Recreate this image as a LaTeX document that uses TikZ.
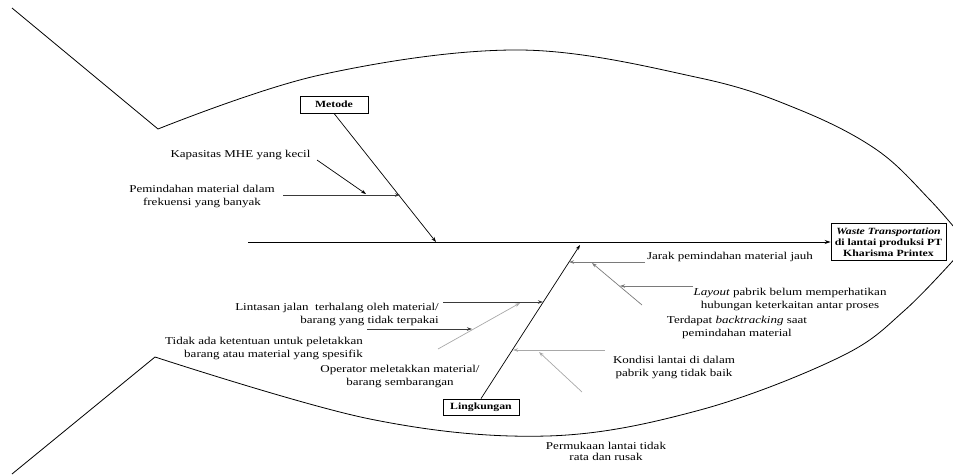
\documentclass[tikz,border=0pt]{standalone}
\usepackage{fontspec}
\setmainfont{Liberation Serif}[FakeStretch=1.24]
\usepackage{tikz}
\usetikzlibrary{arrows.meta}
\definecolor{ink}{HTML}{000000}
\definecolor{dark}{HTML}{3A3A3A}
\definecolor{mid}{HTML}{7A7A7A}
\definecolor{light}{HTML}{A8A8A8}
\tikzset{
  outline/.style={draw=ink, line width=0.8pt, line join=round},
  spine/.style={draw=ink, line width=1pt, -{Stealth[length=6pt,width=4pt]}},
  bone/.style={draw=ink, line width=0.7pt, -{Stealth[length=5pt,width=3.5pt]}},
  rib/.style={line width=0.7pt, -{Stealth[length=5pt,width=3.5pt]}},
  box/.style={draw=ink, line width=0.8pt, fill=white, inner sep=1pt, align=center,
    font=\fontsize{9.5}{11}\selectfont\bfseries},
  lab/.style={text=ink, inner sep=0pt, align=center, font=\fontsize{10.5}{13}\selectfont},
}

\begin{document}
\begin{tikzpicture}[x=1pt,y=-1pt]
  \useasboundingbox (0,0) rectangle (953,475);
  \clip (0,0) rectangle (953,475);
  % fish body
  \draw[outline] (12,8) -- (158,129);
  \draw[outline] plot[smooth, tension=0.6] coordinates {(158,129) (320,75) (520,50) (700,78) (800,110) (877,150) (930,200) (968,244)};
  \draw[outline] plot[smooth, tension=0.6] coordinates {(968,244) (905,310) (840,357) (700,410) (547,436) (370,419) (155,357)};
  \draw[outline] (155,357) -- (12,474);

  % head and heads of the bones
  \node[box, minimum width=115pt, minimum height=37pt] (wt) at (888.5,242)
    {\textit{Waste Transportation}\\ di lantai produksi PT\\ Kharisma Printex};
  \node[box, minimum width=68pt, minimum height=17pt] (mt) at (334,104.5) {Metode};
  \node[box, minimum width=76pt, minimum height=16pt] (lk) at (481,407) {Lingkungan};

  \coordinate (tail) at (248,242);
  \coordinate (mtend) at (436,242);
  \coordinate (lkend) at (580,245);
  \draw[spine] (tail) -- (tail -| wt.west);
  \draw[bone] (mt.south) -- (mtend);
  \draw[bone] (lk.north) -- (lkend);

  % Metode
  \coordinate (mt1) at (283,195); \coordinate (mt1e) at (400,195);
  \coordinate (mt2) at (317,160); \coordinate (mt2e) at (366,194);
  \draw[rib, draw=dark] (mt1) -- (mt1e);
  \draw[rib, draw=ink] (mt2) -- (mt2e);

  % Lingkungan
  \coordinate (lr1) at (645,262); \coordinate (lr1e) at (569,262);
  \coordinate (lr2) at (642,305); \coordinate (lr2e) at (592,263);
  \coordinate (lr3) at (693,286); \coordinate (lr3e) at (620,286);
  \coordinate (lr4) at (605,350); \coordinate (lr4e) at (513,350);
  \coordinate (lr5) at (582,392); \coordinate (lr5e) at (539,352);
  \coordinate (ll1) at (443,302); \coordinate (ll1e) at (543,302);
  \coordinate (ll2) at (438,349); \coordinate (ll2e) at (520,303);
  \coordinate (ll3) at (367,329); \coordinate (ll3e) at (472,329);
  \draw[rib, draw=mid] (lr1) -- (lr1e);
  \draw[rib, draw=mid] (lr2) -- (lr2e);
  \draw[rib, draw=mid] (lr3) -- (lr3e);
  \draw[rib, draw=light] (lr4) -- (lr4e);
  \draw[rib, draw=light] (lr5) -- (lr5e);
  \draw[rib, draw=dark] (ll1) -- (ll1e);
  \draw[rib, draw=light] (ll2) -- (ll2e);
  \draw[rib, draw=dark] (ll3) -- (ll3e);

  % causes
  \node[lab] (kap) at (240.5,155) {Kapasitas MHE yang kecil};
  \node[lab] (pem) at (202,196.5) {Pemindahan material dalam\\ frekuensi yang banyak};
  \node[lab] (jar) at (730,257) {Jarak pemindahan material jauh};
  \node[lab] (lay) at (790,299) {\textit{Layout} pabrik belum memperhatikan\\ hubungan keterkaitan antar proses};
  \node[lab] (bt) at (737,327.5) {Terdapat \textit{backtracking} saat\\ pemindahan material};
  \node[lab, anchor=east, align=right] (lin) at (439,314) {Lintasan jalan\ \ terhalang oleh material/\\ barang yang tidak terpakai};
  \node[lab, anchor=east, align=right] (tdk) at (363,348) {Tidak ada ketentuan untuk peletakkan\\ barang atau material yang spesifik};
  \node[lab] (opr) at (400,376) {Operator meletakkan material/\\ barang sembarangan};
  \node[lab] (kon) at (674,367) {Kondisi lantai di dalam\\ pabrik yang tidak baik};
  \node[lab, font=\fontsize{10.5}{11}\selectfont] (per) at (606,451) {Permukaan lantai tidak\\ rata dan rusak};
\end{tikzpicture}
\end{document}
